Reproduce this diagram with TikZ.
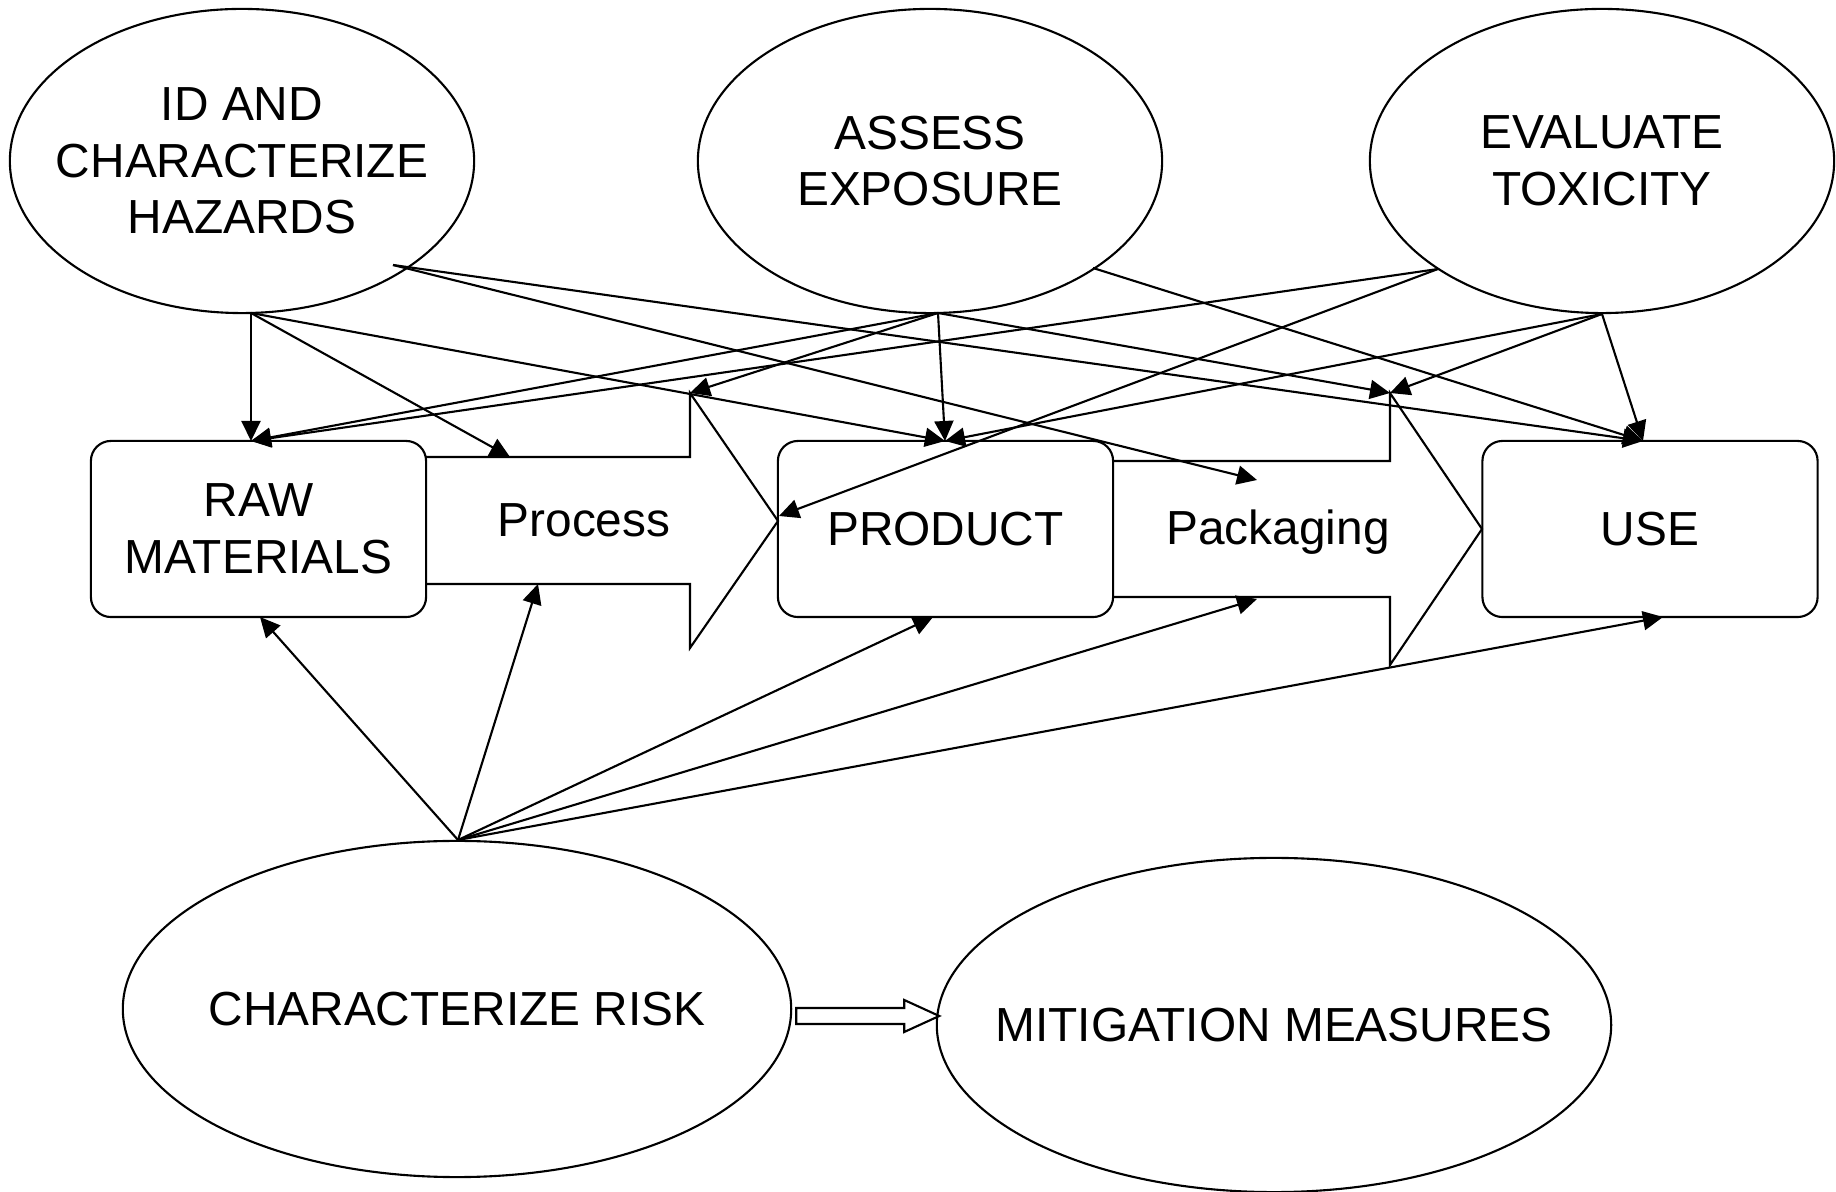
\documentclass[tikz,border=0pt]{standalone}
\usepackage{fontspec}
\setmainfont{Liberation Sans}
\usetikzlibrary{shapes.geometric, arrows.meta, positioning, calc}
\tikzstyle{task} = [ellipse, draw=black, minimum width=4.64cm, minimum height=3.04cm, inner sep=0pt]
\tikzstyle{risk} = [ellipse, draw=black, minimum width=6.68cm, minimum height=3.36cm, inner sep=0pt]
\tikzstyle{stage} = [rectangle, rounded corners=0.2cm, minimum width=3.35cm, minimum height=1.76cm, align=center, draw=black]
\tikzstyle{words} = [align=center, inner sep=0pt]
\tikzstyle{arrow} = [-{Triangle[length=0.2cm,width=0.19cm]}]

\begin{document}
\begin{tikzpicture}[x=0.01cm, y=-0.01cm, line width=0.6pt, font=\fontsize{13.6}{16.1}\selectfont]
                \useasboundingbox (0,0) rectangle (1836,1192);

                % assessment steps
                \node (id) [task] at (242,161) {};
                \node (as) [task] at (930,161) {};
                \node (ev) [task] at (1602,161) {};
                \node (idtxt) [words] at (id.center) {ID AND\\CHARACTERIZE\\HAZARDS};
                \node (astxt) [words] at (as.center) {ASSESS\\EXPOSURE};
                \node (evtxt) [words] at (ev.center) {EVALUATE\\TOXICITY};

                % life cycle
                \node (raw) [stage] at (258.5,529) {RAW\\MATERIALS};
                \node (prod) [stage] at (945.5,529) {PRODUCT};
                \node (use) [stage] at (1650,529) {USE};
                \draw (426,457) -- (690,457) -- (690,393) -- (778,521) -- (690,648) -- (690,584) -- (426,584);
                \draw (1114,461) -- (1390,461) -- (1390,393) -- (1482,529) -- (1390,665) -- (1390,597) -- (1114,597);
                \node (proctxt) [words, anchor=base] at (584,537) {Process};
                \node (packtxt) [words, anchor=base] at (1278,545) {Packaging};

                % risk and mitigation
                \node (cr) [risk] at (457,1009) {};
                \node (mit) [risk, minimum width=6.74cm, minimum height=3.34cm] at (1274,1025) {};
                \node (crtxt) [words] at (cr.center) {CHARACTERIZE RISK};
                \node (mittxt) [words] at (mit.center) {MITIGATION MEASURES};
                \draw ($(cr.east)+(4,-1)$) -- ++(108,0) -- ++(0,-8) -- ++(35,16) -- ++(-35,16) -- ++(0,-8) -- ++(-108,0) -- cycle;

                % where the arrows leave and land
                \coordinate (idB) at (251,313);
                \coordinate (idR) at (393,265);
                \coordinate (asB) at (938,313);
                \coordinate (asR) at (1093,268);
                \coordinate (evL) at (1438,269);
                \coordinate (evB) at (1602,314);
                \coordinate (crT) at (458,840);
                \coordinate (rawT) at (251,441);
                \coordinate (rawB) at (260,617);
                \coordinate (procT) at (510,457);
                \coordinate (procH) at (690,393);
                \coordinate (procB) at (538,584);
                \coordinate (prodT) at (945,441);
                \coordinate (prodL) at (779,516);
                \coordinate (prodB) at (933,617);
                \coordinate (packIn) at (1257,480);
                \coordinate (packH) at (1390,393);
                \coordinate (packB) at (1257,599);
                \coordinate (useT) at (1643,441);
                \coordinate (useB) at (1663,617);

                \draw [arrow] (idB) -- (rawT);
                \draw [arrow] (idB) -- (procT);
                \draw [arrow] (idB) -- (prodT);
                \draw [arrow] (idR) -- (packIn);
                \draw [arrow] (idR) -- (useT);

                \draw [arrow] (asB) -- (rawT);
                \draw [arrow] (asB) -- (procH);
                \draw [arrow] (asB) -- (prodT);
                \draw [arrow] (asB) -- (packH);
                \draw [arrow] (asR) -- (useT);

                \draw [arrow] (evL) -- (rawT);
                \draw [arrow] (evL) -- (prodL);
                \draw [arrow] (evB) -- (prodT);
                \draw [arrow] (evB) -- (packH);
                \draw [arrow] (evB) -- (useT);

                \draw [arrow] (crT) -- (rawB);
                \draw [arrow] (crT) -- (procB);
                \draw [arrow] (crT) -- (prodB);
                \draw [arrow] (crT) -- (packB);
                \draw [arrow] (crT) -- (useB);
            \end{tikzpicture}
\end{document}
